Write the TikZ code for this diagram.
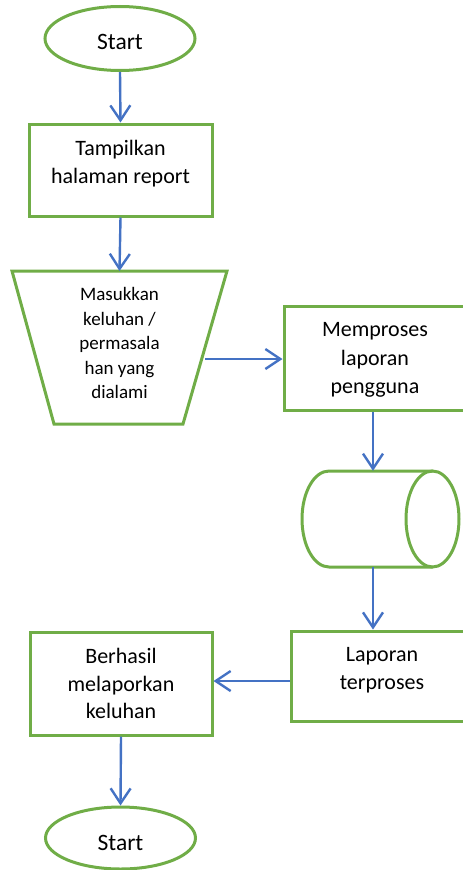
\documentclass[tikz,border=0pt]{standalone}
\usepackage{fontspec}
\setmainfont{Carlito}
\usetikzlibrary{arrows.meta,shapes.geometric}
\definecolor{fgreen}{HTML}{70AD47}
\definecolor{fblue}{HTML}{4472C4}
\begin{document}
\begin{tikzpicture}[x=1pt,y=-1pt,
  gline/.style={draw=fgreen,line width=3pt},
  term/.style={gline,ellipse,minimum width=150pt,minimum height=64pt,inner sep=0pt},
  procbox/.style={gline,rectangle,inner sep=0pt},
  txt/.style={align=center,inner sep=0pt,font=\fontsize{22}{27.5}\selectfont},
  starttxt/.style={inner sep=0pt,font=\fontsize{23.5}{28}\selectfont},
  smalltxt/.style={align=center,inner sep=0pt,font=\fontsize{19}{24.5}\selectfont},
  flow/.style={draw=fblue,line width=2.4pt,-{Straight Barb[length=15pt,width=20pt,line width=2.4pt]}}
]
\useasboundingbox (0,0) rectangle (463,870);

% terminals
\node[term] (s1) at (120,38.5) {};
\node[starttxt] (s1t) at (120,42) {Start};
\node[term,minimum height=62pt] (s2) at (120.5,838) {};
\node[starttxt] (s2t) at (120.5,843) {Start};

% process boxes
\node[procbox,minimum width=183pt,minimum height=92pt] (b1) at (120.5,170) {};
\node[txt] (b1t) at (120.5,163.5) {Tampilkan\\halaman report};

\node[procbox,minimum width=182pt,minimum height=104pt] (b2) at (375,358) {};
\node[txt,font=\fontsize{22}{28.5}\selectfont] (b2t) at (375,360) {Memproses\\laporan\\pengguna};

\node[procbox,minimum width=182pt,minimum height=90pt] (b3) at (382,676) {};
\node[txt,font=\fontsize{22}{28}\selectfont] (b3t) at (382,670.5) {Laporan\\terproses};

\node[procbox,minimum width=182pt,minimum height=103pt] (b4) at (121,683.5) {};
\node[txt,font=\fontsize{22}{27.5}\selectfont] (b4t) at (121,683.5) {Berhasil\\melaporkan\\keluhan};

% manual input trapezoid
\draw[gline] (12,271) -- (227,271) -- (183,424) -- (54,424) -- cycle;
\coordinate (trapN) at (119.5,271);
\coordinate (trapE) at (205,359);
\node[smalltxt] (trapt) at (119.5,343) {Masukkan\\keluhan /\\permasala\\han yang\\dialami};

% cylinder
\node[minimum width=157pt,minimum height=96pt,inner sep=0pt] (cyl) at (380.5,519) {};
\draw[gline] (432.5,471) -- (329,471) arc[start angle=270,end angle=90,x radius=27,y radius=48] -- (432.5,567);
\draw[gline] (432.5,519) ellipse[x radius=26.5,y radius=48];

% connectors
\draw[flow] (s1.south) -- (b1.north);
\draw[flow] (b1.south) -- (trapN);
\draw[flow] (trapE) -- (trapE -| b2.west);
\draw[flow] ([xshift=-2pt]b2.south) -- ([xshift=-2pt]b2.south |- cyl.north);
\draw[flow] ([xshift=-2pt]b2.south |- cyl.south) -- ([xshift=-2pt]b2.south |- b3.north);
\draw[flow] ([yshift=-5pt]b3.west) -- ([yshift=-5pt]b3.west -| b4.east);
\draw[flow] (b4.south) -- (s2.north);
\end{tikzpicture}
\end{document}
